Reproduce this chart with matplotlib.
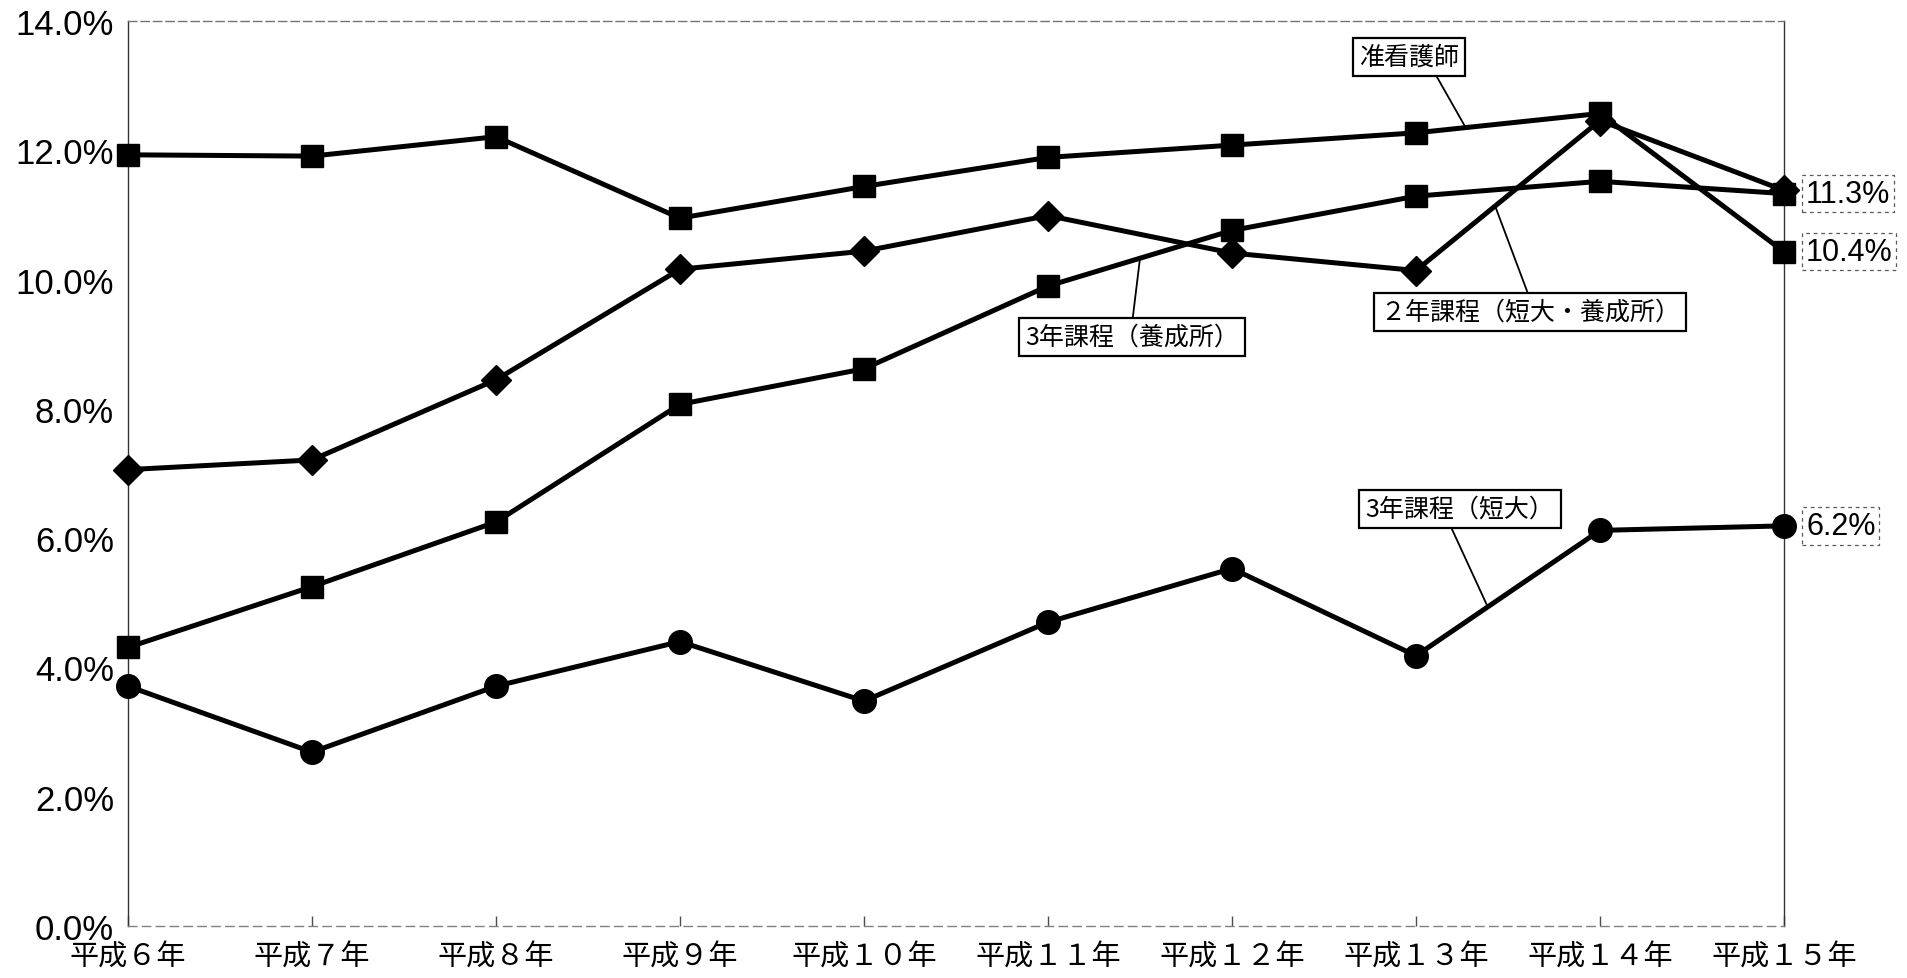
import numpy as np
import matplotlib
matplotlib.use("Agg")
import matplotlib.pyplot as plt
from matplotlib.ticker import FuncFormatter

plt.rcParams['font.family'] = ['Noto Sans CJK JP', 'DejaVu Sans']

# ---- data ----
years = ["平成６年", "平成７年", "平成８年", "平成９年", "平成１０年",
         "平成１１年", "平成１２年", "平成１３年", "平成１４年", "平成１５年"]
junkango = [11.93, 11.91, 12.21, 10.95, 11.44, 11.89, 12.08, 12.27, 12.57, 10.43]
ninen = [7.06, 7.21, 8.45, 10.16, 10.44, 10.99, 10.41, 10.14, 12.46, 11.38]
sannen_yosei = [4.31, 5.25, 6.25, 8.07, 8.62, 9.90, 10.76, 11.29, 11.52, 11.33]
sannen_tandai = [3.71, 2.69, 3.71, 4.40, 3.48, 4.70, 5.53, 4.18, 6.12, 6.19]

series_names = ["准看護師", "２年課程（短大・養成所）", "3年課程（養成所）", "3年課程（短大）"]
end_labels = ["10.4%", "11.3%", "6.2%"]
yticks = [0, 2, 4, 6, 8, 10, 12, 14]

# ---- figure ----
fig = plt.figure(figsize=(19.08, 9.79), dpi=100)
ax = fig.add_axes([128 / 1908, 1 - 927 / 979, (1784 - 128) / 1908, (927 - 22) / 979])

x = np.arange(len(years))
lw = 3.6
ax.plot(x, sannen_tandai, color='black', lw=lw, marker='o', ms=17, clip_on=False, zorder=3)
ax.plot(x, sannen_yosei, color='black', lw=lw, marker='s', ms=16, clip_on=False, zorder=3)
ax.plot(x, ninen, color='black', lw=lw, marker='D', ms=15, clip_on=False, zorder=4)
ax.plot(x, junkango, color='black', lw=lw, marker='s', ms=16, clip_on=False, zorder=5)

ax.set_xlim(0, len(years) - 1)
ax.set_ylim(0, 14)
ax.set_yticks(yticks)
ax.yaxis.set_major_formatter(FuncFormatter(lambda v, p: f"{v:.1f}%"))
ax.set_xticks(x)
ax.set_xticklabels(years, fontsize=21, family=['Noto Sans CJK JP'])
for lab in ax.get_yticklabels():
    lab.set_family(['Liberation Sans', 'DejaVu Sans'])
    lab.set_fontsize(25)
ax.tick_params(axis='y', length=0, pad=10)
ax.tick_params(axis='x', direction='in', length=7, width=1, color='0.3', pad=11)

ax.spines['left'].set_linewidth(1.0)
ax.spines['left'].set_color('0.2')
ax.spines['right'].set_linewidth(1.0)
ax.spines['right'].set_color('0.2')
ax.spines['top'].set_linestyle((0, (6, 3)))
ax.spines['top'].set_linewidth(1.0)
ax.spines['top'].set_color('0.45')
ax.spines['bottom'].set_linestyle((0, (6, 4)))
ax.spines['bottom'].set_linewidth(1.0)
ax.spines['bottom'].set_color('0.5')

# ---- callout labels ----
box = dict(boxstyle='square,pad=0.25', fc='white', ec='black', lw=1.6)
callouts = [
    (series_names[0], junkango, 7.27, (1409, 979 - 58), (0.74, 0.0)),
    (series_names[2], sannen_yosei, 5.5, (1132, 979 - 338), (0.5, 1.0)),
    (series_names[1], ninen, 7.43, (1530, 979 - 313), (0.5, 1.0)),
    (series_names[3], sannen_tandai, 7.39, (1460, 979 - 510), (0.44, 0.0)),
]
for name, vals, xi, pos, rel in callouts:
    yi = np.interp(xi, x, vals)
    ax.annotate(name, xy=(xi, yi), xycoords='data', xytext=pos,
                textcoords='figure pixels', ha='center', va='center',
                fontsize=18, bbox=box, zorder=6,
                arrowprops=dict(arrowstyle='-', lw=1.3, color='black',
                                shrinkA=0, shrinkB=0, relpos=rel))

# ---- end value labels ----
lbox = dict(boxstyle='square,pad=0.12', fc='white', ec='0.35', lw=0.9, ls=(0, (3, 3)))
for txt, vals in [(end_labels[0], junkango), (end_labels[1], sannen_yosei),
                  (end_labels[2], sannen_tandai)]:
    ax.annotate(txt, xy=(x[-1], vals[-1]), xytext=(22, 0), textcoords='offset pixels',
                ha='left', va='center', fontsize=22,
                family=['Liberation Sans', 'DejaVu Sans'], bbox=lbox,
                annotation_clip=False, zorder=6)

fig.savefig("out.png", dpi=100, facecolor='white')
